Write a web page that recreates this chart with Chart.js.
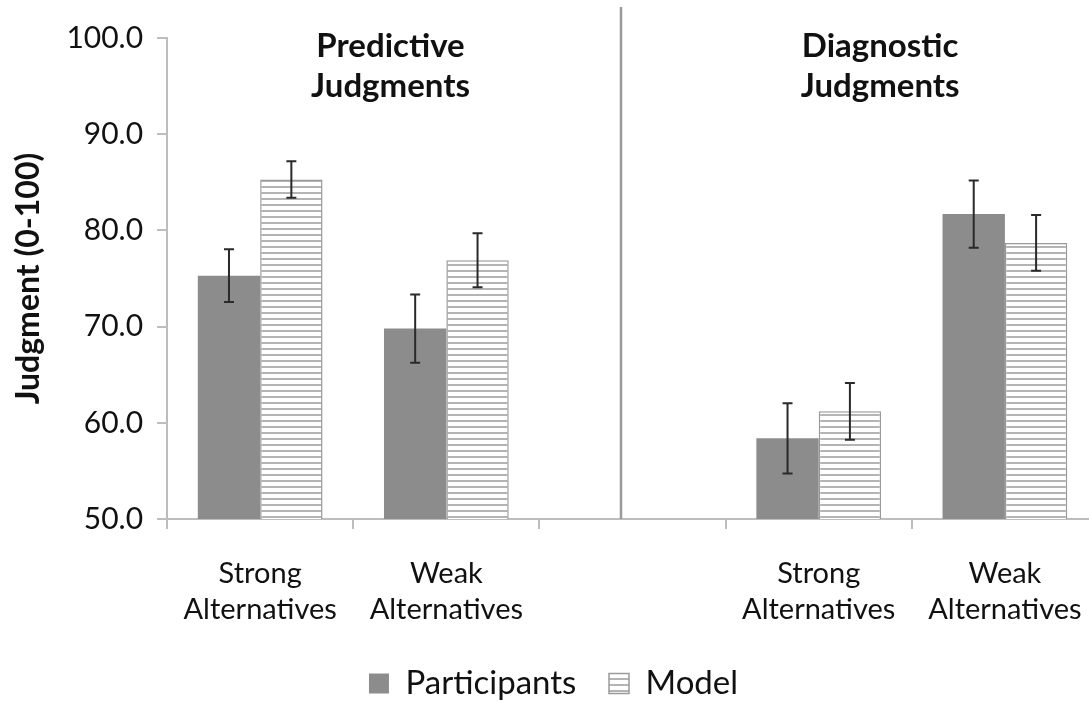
<!DOCTYPE html>
<html>
<head>
<meta charset="utf-8">
<script src="https://cdn.jsdelivr.net/npm/chart.js@4/dist/chart.umd.min.js"></script>
<style>
  html, body { margin: 0; padding: 0; background: #fff; overflow: hidden; }
  #wrap { width: 1110px; height: 702px; position: relative; }
</style>
</head>
<body>
<div id="wrap"><canvas id="c"></canvas></div>
<script>
// Categories (the middle slot is an empty spacer between the two panels)
const categories = [
  ['Strong', 'Alternatives'],
  ['Weak', 'Alternatives'],
  '',
  ['Strong', 'Alternatives'],
  ['Weak', 'Alternatives']
];
const participants = [75.3, 69.8, null, 58.4, 81.7];
const participantsErr = [2.75, 3.55, null, 3.65, 3.5];
const model = [85.3, 76.9, null, 61.2, 78.7];
const modelErr = [1.9, 2.8, null, 2.95, 2.9];
const yTicks = [50, 60, 70, 80, 90, 100];
const panelTitles = [['Predictive', 'Judgments'], ['Diagnostic', 'Judgments']];

const FONT = 'Lato, "Open Sans", sans-serif';

// Horizontal-stripe fill for the model bars
function stripePattern() {
  const p = document.createElement('canvas');
  p.width = 8; p.height = 6;
  const g = p.getContext('2d');
  g.fillStyle = '#ffffff';
  g.fillRect(0, 0, 8, 6);
  g.fillStyle = '#b4b4b4';
  g.fillRect(0, 0, 8, 2);
  return g.createPattern(p, 'repeat');
}

const ctx = document.getElementById('c').getContext('2d');
const stripes = stripePattern();

// Error bars for each dataset
const errorBars = {
  id: 'errorBars',
  afterDatasetsDraw(chart) {
    const errs = [participantsErr, modelErr];
    const y = chart.scales.y;
    const c = chart.ctx;
    c.save();
    c.strokeStyle = '#2a2a2a';
    c.lineWidth = 2;
    chart.data.datasets.forEach((ds, di) => {
      const meta = chart.getDatasetMeta(di);
      meta.data.forEach((bar, i) => {
        const v = ds.data[i];
        const e = errs[di][i];
        if (v == null || e == null) return;
        const x = bar.x;
        const top = y.getPixelForValue(v + e);
        const bot = y.getPixelForValue(v - e);
        c.beginPath();
        c.moveTo(x, top); c.lineTo(x, bot);
        c.moveTo(x - 5, top); c.lineTo(x + 5, top);
        c.moveTo(x - 5, bot); c.lineTo(x + 5, bot);
        c.stroke();
      });
    });
    c.restore();
  }
};

// Panel divider and panel headings
const panels = {
  id: 'panels',
  afterDraw(chart) {
    const x = chart.scales.x;
    const y = chart.scales.y;
    const c = chart.ctx;
    const w = x.getPixelForValue(1) - x.getPixelForValue(0);
    const divX = x.getPixelForValue(2) - 0.062 * w;
    c.save();
    c.strokeStyle = '#9a9a9a';
    c.lineWidth = 2.5;
    c.beginPath();
    c.moveTo(divX, 7);
    c.lineTo(divX, y.bottom);
    c.stroke();
    c.fillStyle = '#111';
    c.font = 'bold 33px ' + FONT;
    c.textAlign = 'center';
    c.textBaseline = 'middle';
    const centers = [x.getPixelForValue(0.7), x.getPixelForValue(3.33)];
    panelTitles.forEach((lines, k) => {
      lines.forEach((t, j) => c.fillText(t, centers[k], 46 + j * 40));
    });
    c.restore();
  }
};

new Chart(ctx, {
  type: 'bar',
  data: {
    labels: categories,
    datasets: [
      {
        label: 'Participants',
        data: participants,
        backgroundColor: '#8c8c8c',
        borderColor: '#8c8c8c',
        borderWidth: 0,
        categoryPercentage: 0.67,
        barPercentage: 1.0
      },
      {
        label: 'Model',
        data: model,
        backgroundColor: stripes,
        borderColor: '#9a9a9a',
        borderWidth: 1.5,
        categoryPercentage: 0.67,
        barPercentage: 1.0
      }
    ]
  },
  options: {
    responsive: true,
    maintainAspectRatio: false,
    animation: false,
    layout: { padding: { left: 9, right: 12, top: 38, bottom: -8 } },
    plugins: {
      title: { display: false },
      tooltip: { enabled: false },
      legend: {
        position: 'bottom',
        labels: {
          font: { family: FONT, size: 33 },
          color: '#111',
          boxWidth: 20,
          boxHeight: 20,
          padding: 12,
          generateLabels(chart) {
            const items = Chart.defaults.plugins.legend.labels.generateLabels(chart);
            // a little extra room after the first entry
            items[0].text = items[0].text + '\u2002\u2009';
            return items;
          }
        }
      }
    },
    scales: {
      x: {
        offset: true,
        border: { color: '#bdbdbd', width: 2 },
        grid: {
          display: true,
          offset: true,
          drawOnChartArea: false,
          drawTicks: true,
          tickLength: 10,
          color: '#bdbdbd',
          lineWidth: 2
        },
        ticks: {
          color: '#111',
          font: { family: FONT, size: 29, lineHeight: 1.24 },
          padding: 27,
          maxRotation: 0
        }
      },
      y: {
        min: 50,
        max: 100,
        afterBuildTicks(axis) { axis.ticks = yTicks.map(v => ({ value: v })); },
        border: { color: '#bdbdbd', width: 2 },
        grid: {
          display: true,
          drawOnChartArea: false,
          drawTicks: true,
          tickLength: 10,
          color: '#bdbdbd',
          lineWidth: 2
        },
        ticks: {
          color: '#111',
          font: { family: FONT, size: 30 },
          padding: 14,
          callback: v => Number(v).toFixed(1)
        },
        title: {
          display: true,
          text: 'Judgment (0-100)',
          color: '#111',
          font: { family: FONT, size: 32, weight: 'bold' },
          padding: { top: 0, bottom: 5 }
        }
      }
    }
  },
  plugins: [errorBars, panels]
});
</script>
</body>
</html>
